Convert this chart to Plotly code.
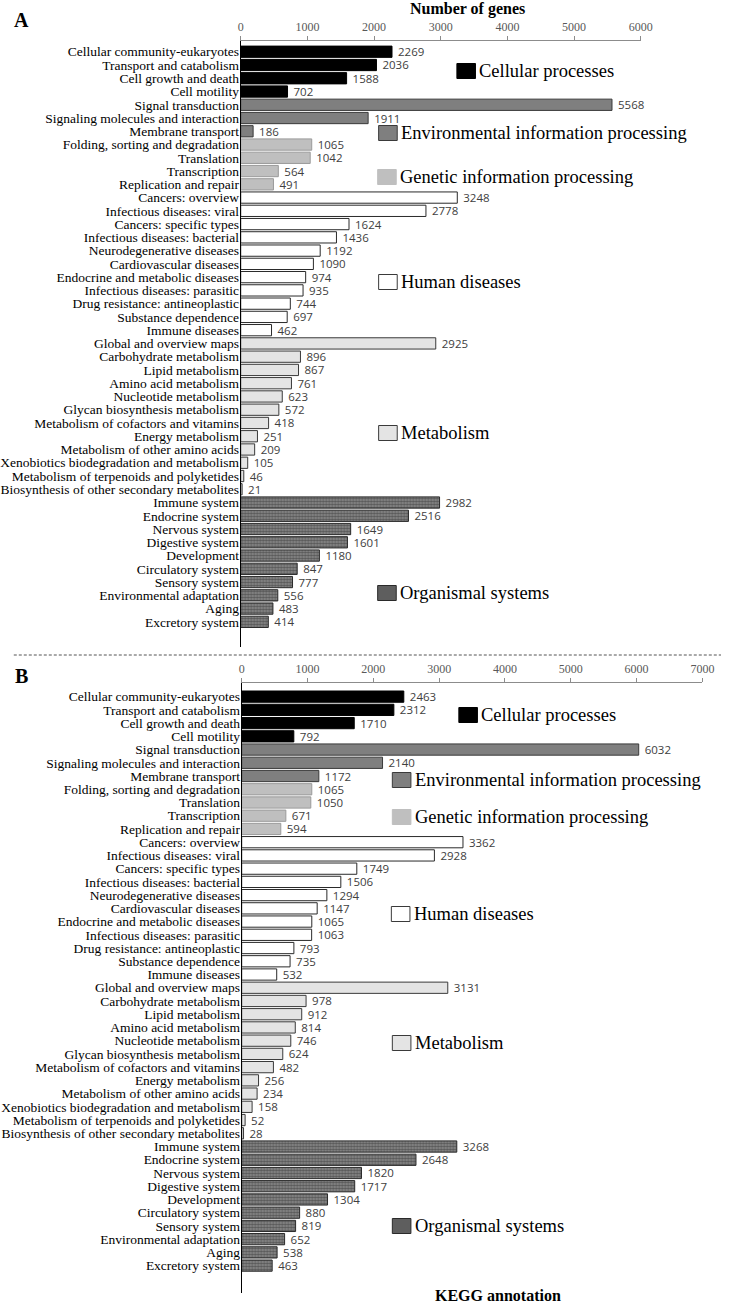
import plotly.graph_objects as go

# ---------------- data ----------------
groups = ["Cellular processes", "Environmental information processing",
          "Genetic information processing", "Human diseases", "Metabolism",
          "Organismal systems"]

cat_cellular = ["Cellular community-eukaryotes", "Transport and catabolism",
                "Cell growth and death", "Cell motility"]
cat_environmental = ["Signal transduction", "Signaling molecules and interaction",
                     "Membrane transport"]
cat_genetic = ["Folding, sorting and degradation", "Translation", "Transcription",
               "Replication and repair"]
cat_human = ["Cancers: overview", "Infectious diseases: viral", "Cancers: specific types",
             "Infectious diseases: bacterial", "Neurodegenerative diseases",
             "Cardiovascular diseases", "Endocrine and metabolic diseases",
             "Infectious diseases: parasitic", "Drug resistance: antineoplastic",
             "Substance dependence", "Immune diseases"]
cat_metabolism = ["Global and overview maps", "Carbohydrate metabolism", "Lipid metabolism",
                  "Amino acid metabolism", "Nucleotide metabolism",
                  "Glycan biosynthesis metabolism", "Metabolism of cofactors and vitamins",
                  "Energy metabolism", "Metabolism of other amino acids",
                  "Xenobiotics biodegradation and metabolism",
                  "Metabolism of terpenoids and polyketides",
                  "Biosynthesis of other secondary metabolites"]
cat_organismal = ["Immune system", "Endocrine system", "Nervous system", "Digestive system",
                  "Development", "Circulatory system", "Sensory system",
                  "Environmental adaptation", "Aging", "Excretory system"]

# Panel A values
a_cellular = [2269, 2036, 1588, 702]
a_environmental = [5568, 1911, 186]
a_genetic = [1065, 1042, 564, 491]
a_human = [3248, 2778, 1624, 1436, 1192, 1090, 974, 935, 744, 697, 462]
a_metabolism = [2925, 896, 867, 761, 623, 572, 418, 251, 209, 105, 46, 21]
a_organismal = [2982, 2516, 1649, 1601, 1180, 847, 777, 556, 483, 414]

# Panel B values
b_cellular = [2463, 2312, 1710, 792]
b_environmental = [6032, 2140, 1172]
b_genetic = [1065, 1050, 671, 594]
b_human = [3362, 2928, 1749, 1506, 1294, 1147, 1065, 1063, 793, 735, 532]
b_metabolism = [3131, 978, 912, 814, 746, 624, 482, 256, 234, 158, 52, 28]
b_organismal = [3268, 2648, 1820, 1717, 1304, 880, 819, 652, 538, 463]

a_ticks = [0, 1000, 2000, 3000, 4000, 5000, 6000]
b_ticks = [0, 1000, 2000, 3000, 4000, 5000, 6000, 7000]

group_cats = [cat_cellular, cat_environmental, cat_genetic, cat_human, cat_metabolism,
              cat_organismal]
a_vals = [a_cellular, a_environmental, a_genetic, a_human, a_metabolism, a_organismal]
b_vals = [b_cellular, b_environmental, b_genetic, b_human, b_metabolism, b_organismal]

# ---------------- styling ----------------
W, H = 733, 1304
SERIF = "Liberation Serif, Times New Roman, serif"
SANS = "Open Sans, Noto Sans, sans-serif"

fills = ["#000000", "#7f7f7f", "#bfbfbf", "#ffffff", "#e4e4e4", "#8c8c8c"]
lines = ["#000000", "#3a3a3a", "#9a9a9a", "#2a2a2a", "#3a3a3a", "#2a2a2a"]


def fx(p):
    return p / W


def fy(p):
    return 1 - p / H


all_cats = [c for g in group_cats for c in g]
idx = list(range(len(all_cats)))

fig = go.Figure()

for panel, vals, xa, ya in [("A", a_vals, "x", "y"), ("B", b_vals, "x2", "y2")]:
    start = 0
    for gi, (cats, v) in enumerate(zip(group_cats, vals)):
        ys = idx[start:start + len(cats)]
        start += len(cats)
        marker = dict(color=fills[gi], line=dict(color=lines[gi], width=1))
        if gi == 5:
            marker["pattern"] = dict(shape=".", fgcolor="#262626", bgcolor="#8c8c8c",
                                     size=3, solidity=0.55)
        fig.add_trace(go.Bar(
            x=v, y=ys, orientation="h", width=0.85, marker=marker,
            texttemplate="\u00a0%{x}", textposition="outside", constraintext="none",
            textfont=dict(family=SANS, size=11.5, color="#404040"),
            cliponaxis=False, showlegend=False, name=groups[gi],
            xaxis=xa, yaxis=ya, hoverinfo="x+y",
        ))

xcommon = dict(side="top", showline=True, linecolor="#8c8c8c", linewidth=1,
               ticks="outside", ticklen=4, tickcolor="#8c8c8c", showgrid=False,
               zeroline=False, tickfont=dict(family=SERIF, size=12, color="#595959"))
ycommon = dict(showline=True, linecolor="#000000", linewidth=1, ticks="",
               showgrid=False, zeroline=False, tickvals=idx, ticktext=all_cats,
               ticklabelstandoff=-2,
               tickfont=dict(family=SERIF, size=13.5, color="#000000"))

fig.update_layout(
    width=W, height=H, margin=dict(l=0, r=0, t=0, b=0),
    paper_bgcolor="white", plot_bgcolor="white", barmode="overlay",
    font=dict(family=SERIF, color="#000000"),
    xaxis=dict(domain=[fx(242), fx(651)], range=[0, 6000], tickvals=a_ticks,
               anchor="y", **xcommon),
    yaxis=dict(domain=[fy(646.5), fy(41)], range=[44.86, -0.81], anchor="x", **ycommon),
    xaxis2=dict(domain=[fx(243), fx(714)], range=[0, 7000], tickvals=b_ticks,
                anchor="y2", **xcommon),
    yaxis2=dict(domain=[fy(1293), fy(683)], range=[45.07, -1.03], anchor="x2", **ycommon),
)

annotations = [
    dict(text="<b>Number of genes</b>", x=fx(474), y=fy(9),
         font=dict(family=SERIF, size=16, color="#000000")),
    dict(text="<b>KEGG annotation</b>", x=fx(505), y=fy(1295),
         font=dict(family=SERIF, size=16, color="#000000")),
    dict(text="<b>A</b>", x=fx(18), y=fy(20), font=dict(family=SERIF, size=20, color="#000000")),
    dict(text="<b>B</b>", x=fx(18), y=fy(676), font=dict(family=SERIF, size=20, color="#000000")),
]
for a in annotations:
    a.update(xref="paper", yref="paper", showarrow=False, xanchor="center", yanchor="middle")

shapes = [dict(type="line", xref="paper", yref="paper", x0=fx(10), x1=fx(733),
               y0=fy(655), y1=fy(655), line=dict(color="#555555", width=1, dash="3px,2px"))]

# legend swatches and texts (swatch left x, centre y) in pixels
leg_a = [(463, 71), (383, 133), (382, 177), (383, 282), (383, 433), (382, 593)]
leg_b = [(465, 715), (397, 780), (397, 817), (396, 914), (397, 1043), (397, 1226)]
sw_fill = ["#000000", "#7f7f7f", "#bfbfbf", "#ffffff", "#e4e4e4", "#5e5e5e"]
sw_line = ["#000000", "#3a3a3a", "#bfbfbf", "#3a3a3a", "#3a3a3a", "#2a2a2a"]
for leg in (leg_a, leg_b):
    for gi, (lx, ly) in enumerate(leg):
        shapes.append(dict(type="rect", xref="paper", yref="paper",
                           x0=fx(lx), x1=fx(lx + 19), y0=fy(ly - 7.5), y1=fy(ly + 7.5),
                           fillcolor=sw_fill[gi], line=dict(color=sw_line[gi], width=1)))
        annotations.append(dict(text=groups[gi], xref="paper", yref="paper",
                                x=fx(lx + 21), y=fy(ly), xanchor="left", yanchor="middle",
                                showarrow=False,
                                font=dict(family=SERIF, size=18.5, color="#000000")))

fig.update_layout(annotations=annotations, shapes=shapes)

fig.write_html("out.html", config={"displayModeBar": False},
               post_script="document.body.style.margin='0';document.body.style.padding='0';")
